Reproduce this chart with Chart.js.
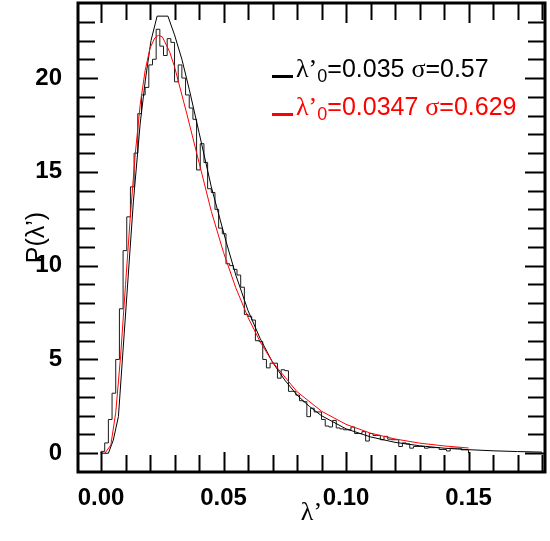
<!DOCTYPE html>
<html>
<head>
<meta charset="utf-8">
<script src="https://cdn.jsdelivr.net/npm/chart.js@4.4.0/dist/chart.umd.min.js"></script>
<style>
  html, body { margin: 0; padding: 0; background: #fff; }
</style>
</head>
<body>
<canvas id="lognormChart" width="550" height="541"></canvas>
<script>
// histogram of lambda' : 100 bins of width 0.0015 starting at 0
const histStart = 0;
const histBinWidth = 0.0015;
const histHeights = [
  0.1, 0.55, 1.8, 3.2, 5.0, 7.7, 10.8, 12.6, 14.2, 16.0,
  18.1, 19.1, 19.5, 20.7, 21.0, 22.6, 21.7, 21.2, 22.1, 21.9,
  19.8, 20.7, 20.0, 19.1, 18.4, 17.8, 15.1, 16.5, 15.5, 14.1,
  13.9, 13.0, 12.0, 11.7, 10.1, 10.0, 9.8, 9.5, 8.85, 7.4,
  7.3, 7.1, 6.0, 5.95, 5.0, 4.55, 4.8, 4.8, 4.0, 4.45,
  4.4, 3.3, 3.3, 3.1, 2.8, 2.75, 1.95, 2.4, 2.2, 2.2,
  1.8, 1.45, 1.4, 1.75, 1.35, 1.3, 1.25, 1.25, 1.4, 1.05,
  1.05, 1.15, 0.65, 1.05, 0.95, 0.95, 0.72, 0.9, 0.75, 0.72,
  0.72, 0.36, 0.55, 0.5, 0.27, 0.36, 0.36, 0.36, 0.27, 0.3,
  0.3, 0.3, 0.2, 0.2, 0.12, 0.27, 0.27, 0.27, 0.18, 0.18
];

// black fit curve (lambda'0=0.035, sigma=0.57)
const fit1X = [0, 0.003, 0.005, 0.0071, 0.0132, 0.016, 0.0181, 0.0204, 0.0229, 0.0273,
  0.030, 0.033, 0.036, 0.040, 0.045, 0.051, 0.055, 0.060, 0.065, 0.070,
  0.075, 0.080, 0.085, 0.090, 0.100, 0.110, 0.120, 0.130, 0.140, 0.150,
  0.160, 0.170, 0.180];
const fit1Y = [0, 0, 0.7, 1.96, 13.4, 17.6, 19.9, 22.0, 23.3, 23.3,
  22.3, 21.0, 19.4, 17.1, 14.2, 11.3, 9.5, 7.6, 6.1, 4.85,
  3.9, 3.1, 2.5, 2.0, 1.3, 0.87, 0.58, 0.4, 0.27, 0.19,
  0.13, 0.09, 0.06];

// red fit curve (lambda'0=0.0347, sigma=0.629)
const fit2X = [0, 0.0016, 0.004, 0.006, 0.008, 0.010, 0.012, 0.014, 0.016, 0.018,
  0.020, 0.022, 0.0234, 0.025, 0.028, 0.030, 0.035, 0.040, 0.045, 0.050,
  0.055, 0.060, 0.065, 0.070, 0.080, 0.090, 0.100, 0.110, 0.120, 0.130,
  0.140, 0.150];
const fit2Y = [0, 0, 0.44, 2.16, 5.2, 9.0, 12.7, 16.0, 18.6, 20.4,
  21.6, 22.15, 22.28, 22.2, 21.4, 20.6, 18.1, 15.5, 12.9, 10.7,
  8.82, 7.24, 5.93, 4.86, 3.28, 2.24, 1.54, 1.07, 0.76, 0.54,
  0.39, 0.28];

const fitLambda = ['0.035', '0.0347'];
const fitSigma = ['0.57', '0.629'];
const fitColors = ['#000000', '#ff0000'];

// axis ticks
const xTicks = [0, 0.01, 0.02, 0.03, 0.04, 0.05, 0.06, 0.07, 0.08, 0.09,
  0.10, 0.11, 0.12, 0.13, 0.14, 0.15, 0.16, 0.17, 0.18];
const xLabelTicks = [0, 0.05, 0.10, 0.15];
const xLabels = ['0.00', '0.05', '0.10', '0.15'];
const yTicks = [0, 1, 2, 3, 4, 5, 6, 7, 8, 9, 10, 11, 12, 13, 14, 15, 16, 17, 18, 19, 20, 21, 22, 23];
const yLabelTicks = [0, 5, 10, 15, 20];
const yLabels = ['0', '5', '10', '15', '20'];

const FONT = '"Liberation Sans", Arial, sans-serif';
const SERIF = '"Liberation Serif", "Times New Roman", serif';

// histogram as stepped line through the bin left edges
const histPoints = [{ x: histStart, y: 0 }];
histHeights.forEach((h, i) => histPoints.push({ x: histStart + i * histBinWidth, y: h }));
const histEnd = histStart + histHeights.length * histBinWidth;
histPoints.push({ x: histEnd, y: histHeights[histHeights.length - 1] });
histPoints.push({ x: histEnd, y: 0 });

// write text pieces one after another, returns the new x
function writeRuns(ctx, runs, x, y) {
  runs.forEach(r => {
    ctx.font = r[1];
    ctx.fillText(r[0], x, y + (r[2] || 0));
    x += ctx.measureText(r[0]).width;
  });
  return x;
}

// frame with inward ticks on all four sides, plus the fit labels
const frameTicks = {
  id: 'frameTicks',
  afterDraw(chart) {
    const { ctx, chartArea: a, scales: { x, y } } = chart;
    ctx.save();
    ctx.strokeStyle = '#000';
    ctx.lineWidth = 2;
    ctx.beginPath();
    xTicks.forEach(v => {
      const px = Math.round(x.getPixelForValue(v)) + 0.5;
      const len = xLabelTicks.includes(v) ? 20 : 17;
      ctx.moveTo(px, a.bottom); ctx.lineTo(px, a.bottom - len);
      ctx.moveTo(px, a.top); ctx.lineTo(px, a.top + len);
    });
    yTicks.forEach(v => {
      const py = Math.round(y.getPixelForValue(v)) + 0.5;
      const len = yLabelTicks.includes(v) ? 20 : 17;
      ctx.moveTo(a.left, py); ctx.lineTo(a.left + len, py);
      ctx.moveTo(a.right, py); ctx.lineTo(a.right - len, py);
    });
    ctx.stroke();

    ctx.lineWidth = 3;
    ctx.strokeRect(a.left, a.top, a.right - a.left, a.bottom - a.top);

    // fit labels
    ctx.textBaseline = 'alphabetic';
    ctx.textAlign = 'left';
    fitLambda.forEach((lam, i) => {
      const by = 77 + i * 38;
      const lx = 272;
      ctx.fillStyle = fitColors[i];
      ctx.fillRect(lx, by - 2, 21, 3);
      writeRuns(ctx, [
        ['\u03bb\u2019', '26px ' + SERIF],
        ['0', '18px ' + FONT, 5],
        ['=' + lam + ' ', '25px ' + FONT],
        ['\u03c3', '26px ' + SERIF],
        ['=' + fitSigma[i], '25px ' + FONT]
      ], lx + 24, by);
    });
    ctx.restore();
  }
};

const ctx = document.getElementById('lognormChart').getContext('2d');

const chart = new Chart(ctx, {
  type: 'scatter',
  data: {
    datasets: [
      {
        label: 'fit 2',
        data: fit2X.map((v, i) => ({ x: v, y: fit2Y[i] })),
        showLine: true,
        borderColor: '#ff0000',
        borderWidth: 1,
        pointRadius: 0,
        order: 0
      },
      {
        label: 'fit 1',
        data: fit1X.map((v, i) => ({ x: v, y: fit1Y[i] })),
        showLine: true,
        borderColor: '#000000',
        borderWidth: 1,
        pointRadius: 0,
        order: 1
      },
      {
        label: 'histogram',
        data: histPoints,
        showLine: true,
        stepped: true,
        borderColor: '#1a1a1a',
        borderWidth: 1,
        pointRadius: 0,
        order: 2
      }
    ]
  },
  options: {
    responsive: false,
    animation: false,
    layout: { padding: { top: 3, right: 5, left: 0, bottom: 0 } },
    plugins: {
      legend: { display: false },
      tooltip: { enabled: false }
    },
    scales: {
      x: {
        type: 'linear',
        min: -0.0094,
        max: 0.1812,
        grid: { display: false },
        border: { display: false },
        afterBuildTicks: s => { s.ticks = xLabelTicks.map(v => ({ value: v })); },
        afterFit: s => { s.height = 69; s.paddingLeft = 0; s.paddingRight = 0; },
        ticks: {
          autoSkip: false,
          maxRotation: 0,
          padding: 4,
          color: '#000',
          font: { family: FONT, size: 24, weight: 'bold' },
          callback: (v, i) => xLabels[i]
        },
        title: {
          display: true,
          text: '\u03bb\u2019',
          color: '#000',
          font: { family: SERIF, size: 26 },
          padding: { top: 0, bottom: 12 }
        }
      },
      y: {
        type: 'linear',
        min: -1,
        max: 24,
        grid: { display: false },
        border: { display: false },
        afterBuildTicks: s => { s.ticks = yLabelTicks.map(v => ({ value: v })); },
        afterFit: s => { s.width = 78; s.paddingTop = 0; s.paddingBottom = 0; },
        ticks: {
          autoSkip: false,
          padding: 8,
          color: '#000',
          font: { family: FONT, size: 24, weight: 'bold' },
          callback: (v, i) => yLabels[i]
        },
        title: {
          display: true,
          text: 'P(\u03bb\u2019)',
          color: '#000',
          font: { family: FONT, size: 25 },
          padding: { top: 22, bottom: 0 }
        }
      }
    }
  },
  plugins: [frameTicks]
});
</script>
</body>
</html>
